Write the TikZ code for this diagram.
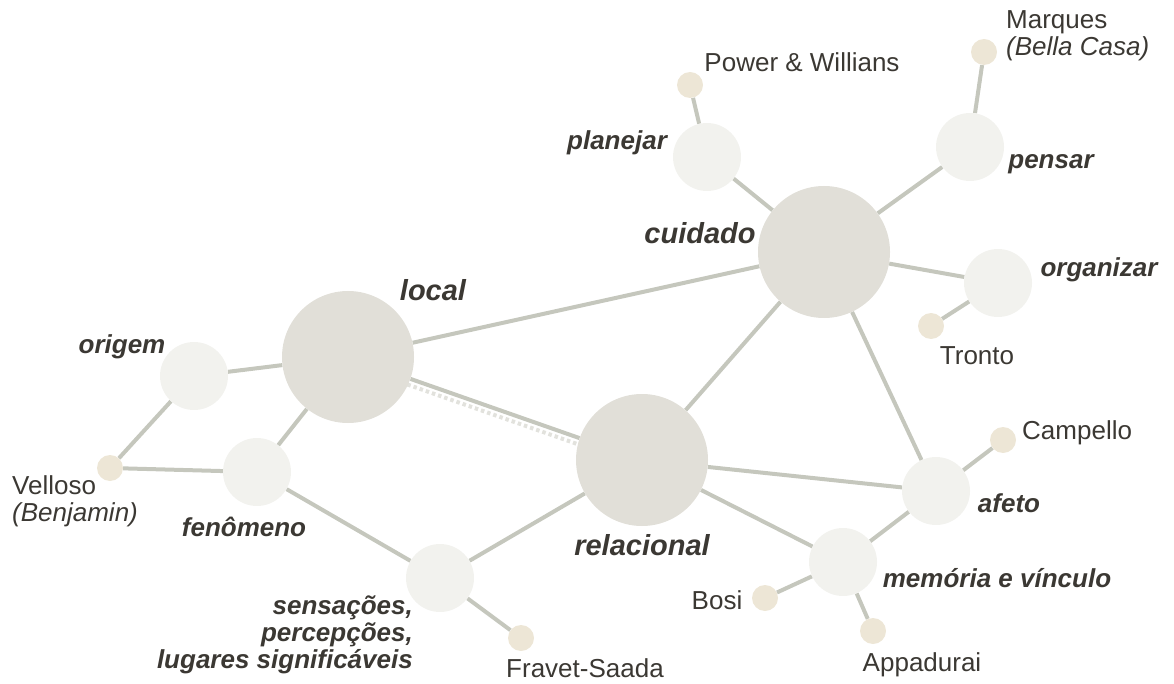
\documentclass[tikz,border=0pt]{standalone}
\usepackage{fontspec}
\setmainfont{Liberation Sans}
\usetikzlibrary{backgrounds}

\definecolor{hubfill}{HTML}{E1DFD8}
\definecolor{subfill}{HTML}{F2F2EE}
\definecolor{leaffill}{HTML}{EDE6D6}
\definecolor{edgecol}{HTML}{C5C7BD}
\definecolor{dotcol}{HTML}{E2E2DD}
\definecolor{inkcol}{HTML}{3B3833}

\tikzset{
  hub/.style={circle,fill=hubfill,minimum size=132pt,inner sep=0pt},
  sub/.style={circle,fill=subfill,minimum size=68pt,inner sep=0pt},
  leaf/.style={circle,fill=leaffill,minimum size=26pt,inner sep=0pt},
  link/.style={draw=edgecol,line width=4pt},
  dotlink/.style={draw=dotcol,line width=4pt,dash pattern=on 3.5pt off 3pt},
  keylbl/.style={text=inkcol,inner sep=0pt,font=\fontsize{29}{32}\selectfont\bfseries\itshape},
  topiclbl/.style={text=inkcol,inner sep=0pt,font=\fontsize{26}{27}\selectfont\bfseries\itshape},
  authorlbl/.style={text=inkcol,inner sep=0pt,font=\fontsize{26}{27}\selectfont},
}

\begin{document}
\begin{tikzpicture}[x=1pt,y=-1pt]
  \useasboundingbox (0,0) rectangle (1174,684);

  % main concepts
  \node[hub] (local) at (348,357) {};
  \node[hub] (relacional) at (642,460) {};
  \node[hub] (cuidado) at (824,252) {};

  % sub concepts
  \node[sub] (origem) at (194,376) {};
  \node[sub] (fenomeno) at (257,472) {};
  \node[sub] (sensacoes) at (440,578) {};
  \node[sub] (planejar) at (707,157) {};
  \node[sub] (pensar) at (970,147) {};
  \node[sub] (organizar) at (998,283) {};
  \node[sub] (afeto) at (936,491) {};
  \node[sub] (memoria) at (843,562) {};

  % authors
  \node[leaf] (power) at (690,85) {};
  \node[leaf] (marques) at (984,52) {};
  \node[leaf] (tronto) at (931,326) {};
  \node[leaf] (campello) at (1003,440) {};
  \node[leaf] (velloso) at (110,468) {};
  \node[leaf] (fravet) at (521,638) {};
  \node[leaf] (bosi) at (765,598) {};
  \node[leaf] (appadurai) at (873,631) {};

  \begin{pgfonlayer}{background}
    \draw[dotlink] ([shift={(-2,6)}]local.center) -- ([shift={(-2,6)}]relacional.center);
    \draw[link] (local) -- (cuidado);
    \draw[link] (local) -- (relacional);
    \draw[link] (local) -- (origem);
    \draw[link] (local) -- (fenomeno);
    \draw[link] (origem) -- (velloso);
    \draw[link] (velloso) -- (fenomeno);
    \draw[link] (fenomeno) -- (sensacoes);
    \draw[link] (sensacoes) -- (relacional);
    \draw[link] (sensacoes) -- (fravet);
    \draw[link] (relacional) -- (cuidado);
    \draw[link] (relacional) -- (afeto);
    \draw[link] (relacional) -- (memoria);
    \draw[link] (cuidado) -- (planejar);
    \draw[link] (planejar) -- (power);
    \draw[link] (cuidado) -- (pensar);
    \draw[link] (pensar) -- (marques);
    \draw[link] (cuidado) -- (organizar);
    \draw[link] (organizar) -- (tronto);
    \draw[link] (cuidado) -- (afeto);
    \draw[link] (afeto) -- (campello);
    \draw[link] (afeto) -- (memoria);
    \draw[link] (memoria) -- (bosi);
    \draw[link] (memoria) -- (appadurai);
  \end{pgfonlayer}

  % labels
  \node[keylbl] (local-lbl) at (433,290) {local};
  \node[keylbl] (cuidado-lbl) at (700,233) {cuidado};
  \node[keylbl] (relacional-lbl) at (642,545) {relacional};

  \node[topiclbl] (origem-lbl) at (122,347) {origem};
  \node[topiclbl] (fenomeno-lbl) at (244,527) {fenômeno};
  \node[topiclbl,align=right,anchor=east] (sensacoes-lbl) at (413,635)
    {sensações,\\percepções,\\lugares significáveis};
  \node[topiclbl] (planejar-lbl) at (617,143) {planejar};
  \node[topiclbl] (pensar-lbl) at (1051,164) {pensar};
  \node[topiclbl] (organizar-lbl) at (1099,270) {organizar};
  \node[topiclbl] (afeto-lbl) at (1009,503) {afeto};
  \node[topiclbl] (memoria-lbl) at (997,578) {memória e vínculo};

  \node[authorlbl] (power-lbl) at (802,62) {Power \& Willians};
  \node[authorlbl,align=left,anchor=west] (marques-lbl) at (1006,36)
    {Marques\\\itshape(Bella Casa)};
  \node[authorlbl] (tronto-lbl) at (977,356) {Tronto};
  \node[authorlbl,anchor=west] (campello-lbl) at (1022,433) {Campello};
  \node[authorlbl,align=left,anchor=west] (velloso-lbl) at (12,501)
    {Velloso\\\itshape(Benjamin)};
  \node[authorlbl] (fravet-lbl) at (585,668) {Fravet-Saada};
  \node[authorlbl] (bosi-lbl) at (717,600) {Bosi};
  \node[authorlbl] (appadurai-lbl) at (922,665) {Appadurai};
\end{tikzpicture}
\end{document}
